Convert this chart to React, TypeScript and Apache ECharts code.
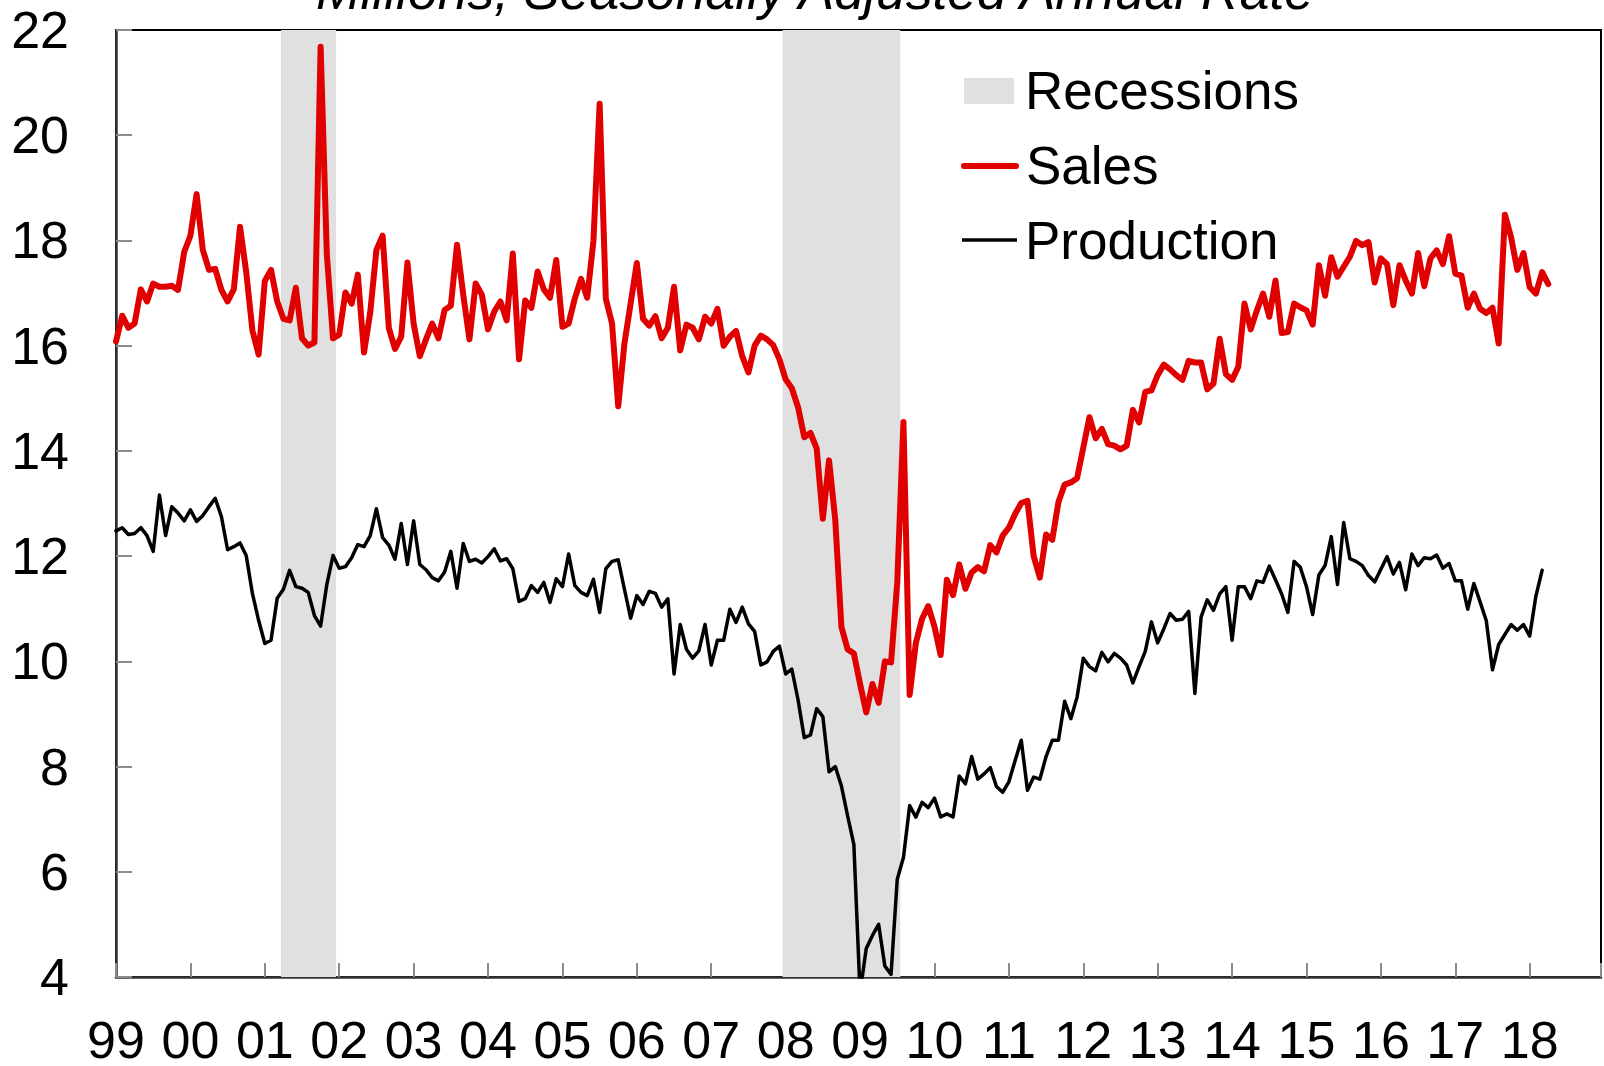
import React, { useEffect, useRef } from 'react';
import * as echarts from 'echarts';

// Month index 0 = Jan 1999
const yearLabels = ['99', '00', '01', '02', '03', '04', '05', '06', '07', '08', '09', '10', '11', '12', '13', '14', '15', '16', '17', '18'];
const yMin = 4;
const yMax = 22;
const yStep = 2;
const xMaxMonth = 239.5;
const titleText = 'Millions, Seasonally Adjusted Annual Rate';
const legendLabels = ['Recessions', 'Sales', 'Production'];

// Recession spans, in month index
const recessions: [number, number][] = [
  [26.6, 35.5],
  [107.5, 126.5],
];

// Light vehicle sales, SAAR millions, monthly from Jan 1999
const sales: number[] = [
  16.08, 16.57, 16.34, 16.42, 17.07, 16.84, 17.18, 17.12, 17.12, 17.14, 17.06, 17.78,
  18.09, 18.88, 17.82, 17.44, 17.46, 17.06, 16.84, 17.07, 18.26, 17.40, 16.29, 15.83,
  17.23, 17.44, 16.84, 16.51, 16.48, 17.10, 16.14, 16.00, 16.06, 21.68, 17.74, 16.14,
  16.21, 17.01, 16.80, 17.35, 15.87, 16.63, 17.82, 18.09, 16.34, 15.94, 16.17, 17.58,
  16.42, 15.80, 16.12, 16.42, 16.14, 16.68, 16.76, 17.92, 16.97, 16.12, 17.18, 16.97,
  16.31, 16.65, 16.84, 16.48, 17.75, 15.74, 16.86, 16.72, 17.41, 17.07, 16.91, 17.63,
  16.36, 16.42, 16.90, 17.27, 16.91, 17.99, 20.60, 16.89, 16.42, 14.85, 16.04, 16.80,
  17.57, 16.51, 16.38, 16.56, 16.14, 16.34, 17.12, 15.91, 16.40, 16.34, 16.12, 16.55,
  16.42, 16.70, 16.00, 16.17, 16.28, 15.80, 15.49, 16.00, 16.19, 16.12, 16.01, 15.74,
  15.36, 15.19, 14.83, 14.26, 14.34, 14.05, 12.71, 13.82, 12.69, 10.65, 10.23, 10.15,
  9.57, 9.03, 9.57, 9.21, 10.00, 9.98, 11.50, 14.55, 9.36, 10.35, 10.81, 11.05,
  10.66, 10.12, 11.55, 11.26, 11.84, 11.38, 11.69, 11.79, 11.71, 12.21, 12.07, 12.39,
  12.54, 12.80, 13.01, 13.05, 12.00, 11.59, 12.41, 12.31, 13.03, 13.36, 13.40, 13.48,
  14.06, 14.64, 14.24, 14.42, 14.13, 14.10, 14.03, 14.10, 14.78, 14.54, 15.12, 15.15,
  15.44, 15.64, 15.55, 15.44, 15.35, 15.71, 15.68, 15.68, 15.17, 15.28, 16.13, 15.46,
  15.35, 15.60, 16.80, 16.31, 16.67, 16.99, 16.55, 17.24, 16.24, 16.26, 16.80, 16.73,
  16.67, 16.40, 17.53, 16.95, 17.68, 17.31, 17.50, 17.69, 17.99, 17.91, 17.97, 17.20,
  17.66, 17.55, 16.77, 17.53, 17.24, 16.99, 17.76, 17.13, 17.66, 17.81, 17.55, 18.08,
  17.37, 17.33, 16.72, 16.99, 16.70, 16.62, 16.72, 16.04, 18.49, 18.06, 17.44, 17.76,
  17.11, 16.99, 17.40, 17.17,
];

// Light vehicle production, SAAR millions, monthly from Jan 1999
const production: number[] = [
  12.48, 12.54, 12.41, 12.43, 12.54, 12.39, 12.09, 13.16, 12.39, 12.94, 12.82, 12.67,
  12.88, 12.66, 12.77, 12.94, 13.10, 12.75, 12.12, 12.18, 12.25, 12.01, 11.29, 10.78,
  10.34, 10.40, 11.20, 11.37, 11.73, 11.42, 11.39, 11.31, 10.87, 10.67, 11.46, 12.01,
  11.77, 11.80, 11.97, 12.22, 12.18, 12.39, 12.90, 12.35, 12.21, 11.94, 12.62, 11.84,
  12.67, 11.84, 11.74, 11.59, 11.53, 11.70, 12.09, 11.39, 12.24, 11.90, 11.94, 11.87,
  11.99, 12.14, 11.91, 11.95, 11.76, 11.14, 11.19, 11.44, 11.31, 11.50, 11.12, 11.57,
  11.42, 12.04, 11.44, 11.31, 11.25, 11.56, 10.93, 11.76, 11.90, 11.93, 11.37, 10.82,
  11.25, 11.08, 11.33, 11.29, 11.03, 11.19, 9.76, 10.70, 10.23, 10.06, 10.20, 10.70,
  9.93, 10.40, 10.40, 10.99, 10.74, 11.03, 10.71, 10.57, 9.93, 9.99, 10.19, 10.29,
  9.76, 9.85, 9.27, 8.55, 8.60, 9.10, 8.95, 7.90, 8.00, 7.63, 7.06, 6.52,
  3.70, 4.54, 4.79, 5.00, 4.21, 4.05, 5.86, 6.27, 7.26, 7.04, 7.32, 7.22,
  7.40, 7.04, 7.10, 7.04, 7.82, 7.67, 8.19, 7.76, 7.86, 7.98, 7.62, 7.51,
  7.71, 8.11, 8.50, 7.55, 7.80, 7.76, 8.19, 8.50, 8.50, 9.24, 8.91, 9.32,
  10.06, 9.90, 9.82, 10.17, 9.99, 10.15, 10.06, 9.93, 9.59, 9.90, 10.19, 10.75,
  10.35, 10.62, 10.91, 10.78, 10.80, 10.95, 9.39, 10.84, 11.17, 10.97, 11.28, 11.42,
  10.40, 11.42, 11.42, 11.19, 11.53, 11.50, 11.81, 11.55, 11.28, 10.93, 11.90, 11.79,
  11.42, 10.89, 11.64, 11.82, 12.37, 11.46, 12.64, 11.95, 11.90, 11.82, 11.63, 11.51,
  11.75, 11.99, 11.66, 11.88, 11.36, 12.04, 11.82, 11.97, 11.95, 12.02, 11.77, 11.86,
  11.53, 11.53, 10.99, 11.48, 11.13, 10.77, 9.84, 10.32, 10.51, 10.70, 10.59, 10.70,
  10.48, 11.24, 11.73,
];

const FONT = '"Liberation Sans", Arial, sans-serif';
const RED = '#e00000';
const SHADE = '#e0e0e0';

export default function App() {
  const ref = useRef<HTMLDivElement>(null);

  useEffect(() => {
    if (!ref.current) return;
    const chart = echarts.init(ref.current, undefined, { renderer: 'svg' });

    const option: any = {
      animation: false,
      backgroundColor: '#fff',
      grid: {
        left: 116,
        right: 2,
        top: 30,
        bottom: 89,
        show: true,
        borderColor: '#000',
        borderWidth: 2,
        backgroundColor: 'transparent',
      },
      xAxis: {
        type: 'value',
        min: 0,
        max: xMaxMonth,
        interval: 12,
        axisLine: { show: true, onZero: false, lineStyle: { color: '#333', width: 2.5 } },
        axisTick: { show: true, inside: true, length: 14, lineStyle: { color: '#8c8c8c', width: 2 } },
        axisLabel: {
          fontSize: 52,
          lineHeight: 44,
          fontFamily: FONT,
          color: '#000',
          margin: 41,
          formatter: (v: number) => {
            if (v % 12 !== 0) return '';
            const idx = v / 12;
            return yearLabels[idx] ?? '';
          },
        },
        splitLine: { show: false },
      },
      yAxis: {
        type: 'value',
        min: yMin,
        max: yMax,
        interval: yStep,
        axisLine: { show: true, onZero: false, lineStyle: { color: '#333', width: 2.5 } },
        axisTick: { show: true, inside: true, length: 16, lineStyle: { color: '#8c8c8c', width: 2 } },
        axisLabel: { fontSize: 52, lineHeight: 44, fontFamily: FONT, color: '#000', margin: 47 },
        splitLine: { show: false },
      },
      series: [
        {
          name: legendLabels[0],
          type: 'line',
          data: [],
          silent: true,
          markArea: {
            silent: true,
            itemStyle: { color: SHADE },
            data: recessions.map(([a, b]) => [{ xAxis: a }, { xAxis: b }]),
          },
        },
        {
          name: legendLabels[1],
          type: 'line',
          data: sales.map((v, i) => [i, v]),
          showSymbol: false,
          symbol: 'none',
          lineStyle: { color: RED, width: 6, cap: 'round', join: 'round' },
          itemStyle: { color: RED },
          silent: true,
        },
        {
          name: legendLabels[2],
          type: 'line',
          data: production.map((v, i) => [i, v]),
          showSymbol: false,
          symbol: 'none',
          lineStyle: { color: '#000', width: 3.5, cap: 'round', join: 'round' },
          itemStyle: { color: '#000' },
          silent: true,
        },
      ],
      graphic: [
        {
          type: 'text',
          x: 815,
          y: -10,
          style: {
            text: titleText,
            align: 'center',
            verticalAlign: 'middle',
            fontSize: 53.5,
            fontStyle: 'italic',
            fontFamily: FONT,
            fill: '#000',
          },
        },
        {
          type: 'rect',
          shape: { x: 964, y: 78, width: 50, height: 26 },
          style: { fill: SHADE },
        },
        {
          type: 'text',
          x: 1025,
          y: 90,
          style: { text: legendLabels[0], verticalAlign: 'middle', fontSize: 53, fontFamily: FONT, fill: '#000' },
        },
        {
          type: 'line',
          shape: { x1: 964, y1: 166, x2: 1016, y2: 166 },
          style: { stroke: RED, lineWidth: 6, lineCap: 'round' },
        },
        {
          type: 'text',
          x: 1026,
          y: 165,
          style: { text: legendLabels[1], verticalAlign: 'middle', fontSize: 53, fontFamily: FONT, fill: '#000' },
        },
        {
          type: 'line',
          shape: { x1: 962, y1: 240, x2: 1017, y2: 240 },
          style: { stroke: '#000', lineWidth: 3.5 },
        },
        {
          type: 'text',
          x: 1025,
          y: 240,
          style: { text: legendLabels[2], verticalAlign: 'middle', fontSize: 53, fontFamily: FONT, fill: '#000' },
        },
      ],
    };

    chart.setOption(option);
    return () => {
      chart.dispose();
    };
  }, []);

  return (
    <div
      ref={ref}
      style={{ position: 'fixed', left: 0, top: 0, width: 1604, height: 1066, background: '#fff' }}
    />
  );
}
